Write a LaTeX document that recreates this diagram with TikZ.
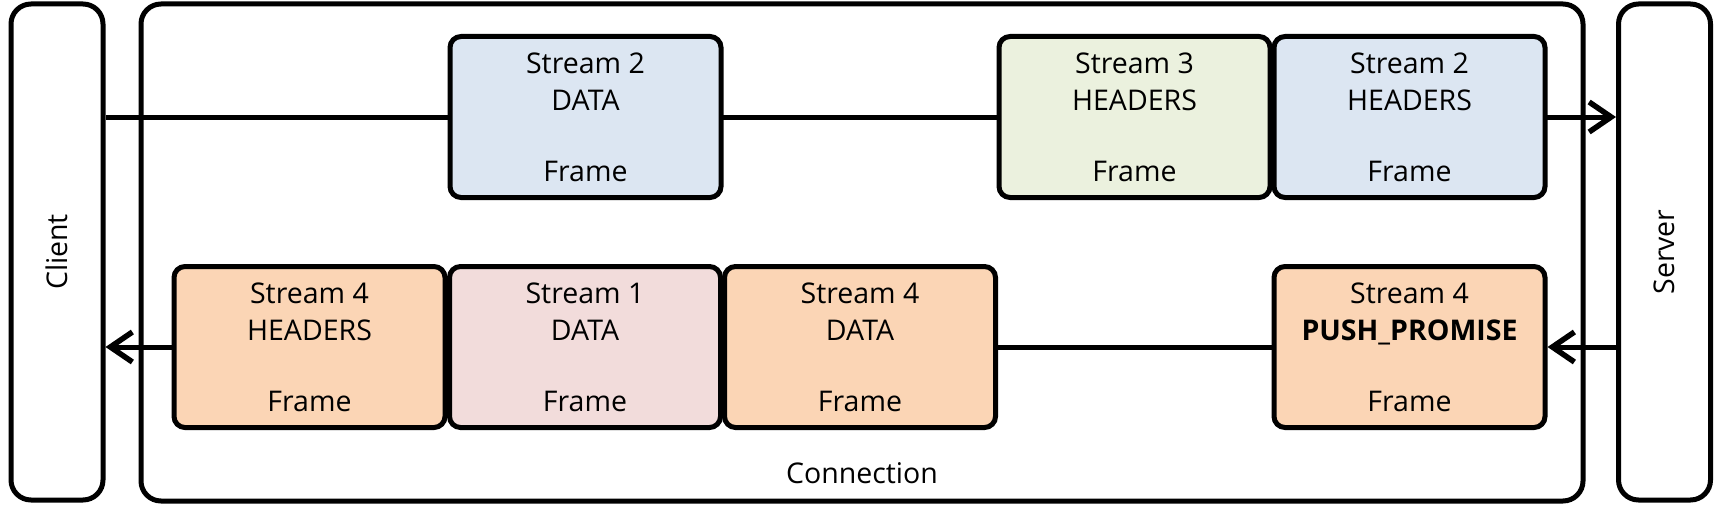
\documentclass[tikz,border=0pt]{standalone}
\usepackage{fontspec}
\setmainfont{Open Sans}
\usetikzlibrary{arrows.meta,backgrounds}
\definecolor{fblue}{HTML}{DCE6F2}
\definecolor{fgreen}{HTML}{EBF1DE}
\definecolor{fpink}{HTML}{F2DCDB}
\definecolor{forange}{HTML}{FBD5B5}
\tikzset{
  every node/.style={font=\fontsize{28.5pt}{37pt}\selectfont, text=black},
  framebox/.style={draw=black, line width=5pt, rounded corners=11pt,
    minimum width=271pt, minimum height=161pt, inner sep=0pt, align=center},
  sidebox/.style={draw=black, line width=5pt, rounded corners=20pt,
    minimum width=496pt, minimum height=92pt, inner sep=0pt, rotate=90},
  connbox/.style={draw=black, line width=5pt, rounded corners=20pt,
    minimum width=1442pt, minimum height=497pt, inner sep=0pt},
  conn/.style={draw=black, line width=5pt,
    -{Straight Barb[length=22pt,width=30pt,line width=5.5pt]}}
}
\begin{document}
\begin{tikzpicture}[x=1pt,y=-1pt]
\useasboundingbox (0,0) rectangle (1720,511);
\node[sidebox] (client) at (57,252) {Client};
\node[sidebox] (server) at (1664.5,252) {Server};
\node[connbox] (connection) at (862,252.5) {};
\node[anchor=base] (conntext) at (862,483) {Connection};
% top row
\node[framebox, fill=fblue] (s2d) at (585.5,117) {Stream 2\\DATA\\[34pt]Frame};
\node[framebox, fill=fgreen] (s3h) at (1134.5,117) {Stream 3\\HEADERS\\[34pt]Frame};
\node[framebox, fill=fblue] (s2h) at (1409.5,117) {Stream 2\\HEADERS\\[34pt]Frame};
% bottom row
\node[framebox, fill=forange] (s4h) at (309.5,347) {Stream 4\\HEADERS\\[34pt]Frame};
\node[framebox, fill=fpink] (s1d) at (585,347) {Stream 1\\DATA\\[34pt]Frame};
\node[framebox, fill=forange] (s4d) at (860,347) {Stream 4\\DATA\\[34pt]Frame};
\node[framebox, fill=forange] (pp) at (1409.5,347) {Stream 4\\\textbf{PUSH\_PROMISE}\\[34pt]Frame};
\begin{pgfonlayer}{background}
\draw[conn] (client.south |- s2d.west) -- (server.north |- s2d.west);
\draw[conn] (pp.west) -- (client.south |- pp.west);
\end{pgfonlayer}
\draw[conn] (server.north |- pp.east) -- (pp.east);
\end{tikzpicture}
\end{document}
